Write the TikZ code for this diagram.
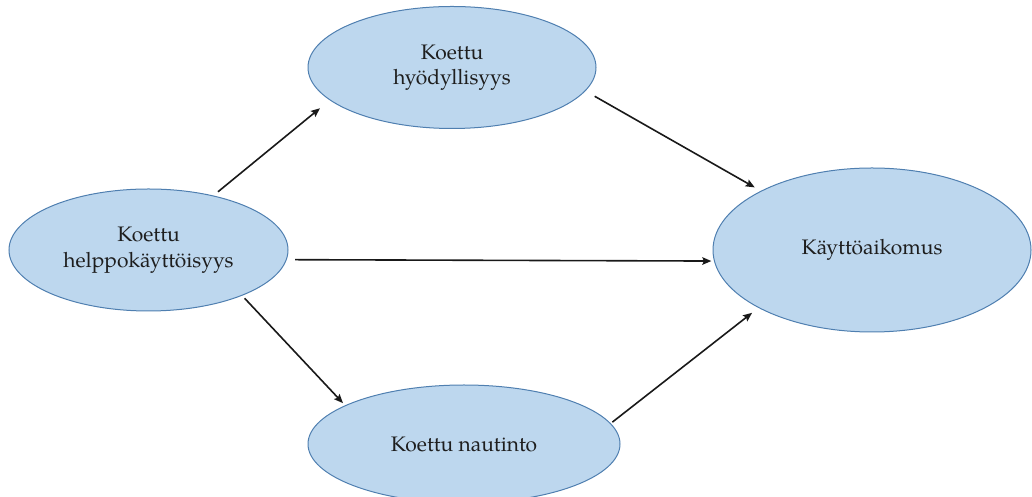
\documentclass[tikz,border=0pt]{standalone}
\usepackage{fontspec}
\setmainfont{TeX Gyre Pagella}
\usetikzlibrary{shapes.geometric,arrows.meta}

\definecolor{bubblefill}{HTML}{BDD7EE}
\definecolor{bubbleline}{HTML}{4F7FB0}
\definecolor{labeltext}{HTML}{1E1E1E}

\tikzset{
  bubble/.style={ellipse, draw=bubbleline, line width=1pt, fill=bubblefill,
    inner sep=0pt, text=labeltext, align=center,
    font=\fontsize{21}{25.5}\selectfont},
  link/.style={draw=black!90, line width=1.6pt,
    -{Stealth[length=9pt,width=7.5pt,inset=1.5pt]}},
}

\begin{document}
\begin{tikzpicture}[x=1pt,y=1pt]
\useasboundingbox (0,0) rectangle (1032,497);

% constructs of the model
\node[bubble, minimum width=279pt, minimum height=122pt] (ease)   at (148.5,247) {Koettu\\helppokäyttöisyys};
\node[bubble, minimum width=288pt, minimum height=122pt] (useful) at (452,429.5) {Koettu\\hyödyllisyys};
\node[bubble, minimum width=312pt, minimum height=118pt] (enjoy)  at (464,53)   {Koettu nautinto};
\node[bubble, minimum width=318pt, minimum height=164pt] (intent) at (872,247)  {Käyttöaikomus};

% hypothesised paths
\draw[link, shorten <=5.9pt, shorten >=12.6pt] (ease.40.26)   -- (useful.195.35);
\draw[link, shorten <=10.6pt, shorten >=7pt]   (useful.350.34) -- (intent.152.86);
\draw[link, shorten <=8.4pt, shorten >=2.6pt]  (ease.356.48)  -- (intent.184.29);
\draw[link, shorten <=3.5pt, shorten >=3pt]    (ease.334.97)  -- (enjoy.162.27);
\draw[link, shorten <=2pt, shorten >=8pt]      (enjoy.8.08)   -- (intent.207.52);
\end{tikzpicture}
\end{document}
